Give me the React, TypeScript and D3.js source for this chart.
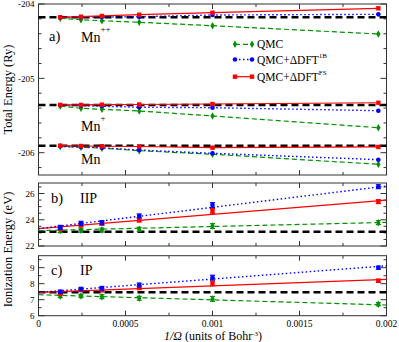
import React from "react";
import * as d3 from "d3";

// ---------- data ----------
const xs = [1 / 8000, 1 / 4096, 1 / 2744, 1 / 1728, 1 / 1000, 1 / 512];
const fitX = [0, 0.002];

// panel a: total energies (Ry)
const mn2Ref = -204.179;
const mn2Qmc = [-204.192, -204.211, -204.225, -204.246, -204.292, -204.403];
const mn2B1 = [-204.179, -204.178, -204.175, -204.171, -204.148, -204.139];
const mn2FS = [-204.179, -204.171, -204.161, -204.144, -204.117, -204.058];

const mn1Ref = -205.358;
const mn1Qmc = [-205.372, -205.403, -205.416, -205.439, -205.506, -205.664];
const mn1B1 = [-205.362, -205.367, -205.376, -205.389, -205.395, -205.435];
const mn1FS = [-205.358, -205.358, -205.354, -205.352, -205.345, -205.328];

const mn0Ref = -205.906;
const mn0Qmc = [-205.917, -205.927, -205.939, -205.973, -206.021, -206.156];
const mn0B1 = [-205.914, -205.923, -205.933, -205.964, -206.008, -206.094];
const mn0FS = [-205.906, -205.91, -205.913, -205.917, -205.933, -205.923];

// panel b: IIP (eV)
const iipRef = 23.09;
const iipQmc = [23.17, 23.2, 23.22, 23.27, 23.52, 23.78];
const iipB1 = [23.42, 23.73, 23.78, 24.29, 25.12, 26.52];
const iipFS = [23.35, 23.6, 23.73, 23.98, 24.67, 25.38];
const iipErr = [0.15, 0.15, 0.15, 0.15, 0.18, 0.15];
const iipFitQmc = [23.17, 23.8];
const iipFitB1 = [23.32, 26.57];
const iipFitFS = [23.32, 25.5];

// panel c: IP (eV)
const ipRef = 7.46;
const ipQmc = [7.23, 7.23, 7.19, 7.09, 7.05, 6.72];
const ipB1 = [7.5, 7.67, 7.71, 7.92, 8.38, 9.0];
const ipFS = [7.4, 7.61, 7.61, 7.75, 8.02, 8.18];
const ipErr = [0.1, 0.1, 0.12, 0.12, 0.15, 0.1];
const ipFitQmc = [7.31, 6.67];
const ipFitB1 = [7.46, 9.12];
const ipFitFS = [7.46, 8.27];

const xTickLabels = ["0", "0.0005", "0.001", "0.0015", "0.002"];
const aTicks = [-206, -205, -204];
const bTicks = [22, 24, 26];
const cTicks = [6, 7, 8, 9];

// ---------- styles ----------
const GREEN = "#009000";
const BLUE = "#0000ff";
const RED = "#ff0000";
const FONT = "'Liberation Serif', 'DejaVu Serif', serif";

const x = d3.scaleLinear().domain([0, 0.002]).range([38.5, 386.5]);
const yA = d3.scaleLinear().domain([-206.3, -204]).range([175, 4]);
const yB = d3.scaleLinear().domain([22, 26.8]).range([246, 183]);
const yC = d3.scaleLinear().domain([6, 9.75]).range([315.7, 255.7]);

type Scale = d3.ScaleLinear<number, number>;

const styles = {
  qmc: { color: GREEN, dash: "5,3", width: 1.2 },
  b1: { color: BLUE, dash: "1.5,2.5", width: 1.4 },
  fs: { color: RED, dash: undefined as string | undefined, width: 1.2 },
};

function Marker({ kind, cx, cy }: { kind: string; cx: number; cy: number }) {
  if (kind === "qmc") {
    const p = d3.symbol().type(d3.symbolDiamond).size(16)();
    return <path d={p || ""} transform={`translate(${cx},${cy})`} fill={GREEN} />;
  }
  if (kind === "b1") return <circle cx={cx} cy={cy} r={2.3} fill={BLUE} />;
  return <rect x={cx - 2.2} y={cy - 2.2} width={4.4} height={4.4} fill={RED} />;
}

function Frame({ y, yMajor, yMinor }: { y: Scale; yMajor: number[]; yMinor: number[] }) {
  const [y0, y1] = y.range();
  const top = Math.min(y0, y1);
  const bot = Math.max(y0, y1);
  const xt = d3.range(0, 0.002 + 1e-9, 0.00025);
  return (
    <g>
      <rect x={x(0)} y={top} width={x(0.002) - x(0)} height={bot - top} fill="none" stroke="#333" strokeWidth={1} />
      {xt.map((v, i) => {
        const major = Math.abs(v / 0.0005 - Math.round(v / 0.0005)) < 1e-6;
        const L = major ? 5 : 3;
        return (
          <g key={i}>
            <line x1={x(v)} x2={x(v)} y1={bot} y2={bot - L} stroke="#333" />
            <line x1={x(v)} x2={x(v)} y1={top} y2={top + L} stroke="#333" />
          </g>
        );
      })}
      {yMinor.map((v, i) => (
        <g key={"m" + i}>
          <line x1={x(0)} x2={x(0) + 3} y1={y(v)} y2={y(v)} stroke="#333" />
          <line x1={x(0.002)} x2={x(0.002) - 3} y1={y(v)} y2={y(v)} stroke="#333" />
        </g>
      ))}
      {yMajor.map((v, i) => (
        <g key={"M" + i}>
          <line x1={x(0)} x2={x(0) + 6} y1={y(v)} y2={y(v)} stroke="#333" />
          <line x1={x(0.002)} x2={x(0.002) - 6} y1={y(v)} y2={y(v)} stroke="#333" />
          <text x={x(0) - 4} y={y(v) + 3.2} textAnchor="end" fontSize={9} fontFamily={FONT}>
            {String(v)}
          </text>
        </g>
      ))}
    </g>
  );
}

function Series({ kind, vals, y }: { kind: "qmc" | "b1" | "fs"; vals: number[]; y: Scale }) {
  const st = styles[kind];
  const line = d3.line<number>().x((_, i) => x(xs[i])).y((v) => y(v));
  return (
    <g>
      <path d={line(vals) || ""} fill="none" stroke={st.color} strokeWidth={st.width} strokeDasharray={st.dash} />
      {vals.map((v, i) => (
        <Marker key={i} kind={kind} cx={x(xs[i])} cy={y(v)} />
      ))}
    </g>
  );
}

function FitSeries({ kind, vals, fit, y, err }: { kind: "qmc" | "b1" | "fs"; vals: number[]; fit: number[]; y: Scale; err: number[] }) {
  const st = styles[kind];
  const line = d3.line<number>().x((_, i) => x(fitX[i])).y((v) => y(v));
  return (
    <g>
      <path d={line(fit) || ""} fill="none" stroke={st.color} strokeWidth={st.width} strokeDasharray={st.dash} />
      {vals.map((v, i) => {
        const cx = x(xs[i]);
        const a = y(v - err[i]);
        const b = y(v + err[i]);
        return (
          <g key={i}>
            <line x1={cx} x2={cx} y1={a} y2={b} stroke={st.color} strokeWidth={1.2} />
            <line x1={cx - 2.5} x2={cx + 2.5} y1={a} y2={a} stroke={st.color} strokeWidth={1.2} />
            <line x1={cx - 2.5} x2={cx + 2.5} y1={b} y2={b} stroke={st.color} strokeWidth={1.2} />
            <Marker kind={kind} cx={cx} cy={y(v)} />
          </g>
        );
      })}
    </g>
  );
}

function RefLine({ v, y }: { v: number; y: Scale }) {
  return <line x1={x(0)} x2={x(0.002)} y1={y(v)} y2={y(v)} stroke="#000" strokeWidth={2.5} strokeDasharray="7,4" />;
}

function LegendRow({ kind, yPos, label, sup }: { kind: "qmc" | "b1" | "fs"; yPos: number; label: string; sup?: string }) {
  const st = styles[kind];
  return (
    <g>
      <line x1={235} x2={252} y1={yPos} y2={yPos} stroke={st.color} strokeWidth={st.width} strokeDasharray={st.dash} />
      <Marker kind={kind} cx={235} cy={yPos} />
      <Marker kind={kind} cx={252} cy={yPos} />
      <text x={257} y={yPos + 4} fontSize={11.5} fontFamily={FONT}>
        {label}
        {sup && (
          <tspan fontSize={7} dy={-6}>
            {sup}
          </tspan>
        )}
      </text>
    </g>
  );
}

export default function App() {
  const range = (a: number, b: number, s: number) => d3.range(a, b + 1e-9, s).map((v) => +v.toFixed(4));
  const notIn = (arr: number[]) => (v: number) => !arr.some((t) => Math.abs(t - v) < 1e-6);
  return (
    <svg width={399} height={342} style={{ position: "absolute", left: 0, top: 0, background: "#fff" }}>
      {/* Panel a */}
      <Frame y={yA} yMajor={aTicks} yMinor={range(-206.2, -204, 0.2).filter(notIn(aTicks))} />
      <RefLine v={mn2Ref} y={yA} />
      <RefLine v={mn1Ref} y={yA} />
      <RefLine v={mn0Ref} y={yA} />
      <Series kind="qmc" vals={mn2Qmc} y={yA} />
      <Series kind="b1" vals={mn2B1} y={yA} />
      <Series kind="fs" vals={mn2FS} y={yA} />
      <Series kind="qmc" vals={mn1Qmc} y={yA} />
      <Series kind="b1" vals={mn1B1} y={yA} />
      <Series kind="fs" vals={mn1FS} y={yA} />
      <Series kind="qmc" vals={mn0Qmc} y={yA} />
      <Series kind="b1" vals={mn0B1} y={yA} />
      <Series kind="fs" vals={mn0FS} y={yA} />
      <text x={49} y={41} fontSize={14.5} fontFamily={FONT}>a)</text>
      <text x={81} y={42} fontSize={14} fontFamily={FONT}>
        Mn<tspan fontSize={9} dy={-10}>++</tspan>
      </text>
      <text x={81} y={131} fontSize={14} fontFamily={FONT}>
        Mn<tspan fontSize={9} dy={-10}>+</tspan>
      </text>
      <text x={81} y={164} fontSize={14} fontFamily={FONT}>Mn</text>
      <LegendRow kind="qmc" yPos={44.3} label="QMC" />
      <LegendRow kind="b1" yPos={59.5} label="QMC+ΔDFT" sup="1B" />
      <LegendRow kind="fs" yPos={76.7} label="QMC+ΔDFT" sup="FS" />

      {/* Panel b */}
      <Frame y={yB} yMajor={bTicks} yMinor={range(22.5, 26.5, 0.5).filter(notIn(bTicks))} />
      <RefLine v={iipRef} y={yB} />
      <FitSeries kind="qmc" vals={iipQmc} fit={iipFitQmc} y={yB} err={iipErr} />
      <FitSeries kind="fs" vals={iipFS} fit={iipFitFS} y={yB} err={iipErr} />
      <FitSeries kind="b1" vals={iipB1} fit={iipFitB1} y={yB} err={iipErr} />
      <text x={51} y={203} fontSize={14.5} fontFamily={FONT}>b)</text>
      <text x={80} y={203} fontSize={14} fontFamily={FONT}>IIP</text>

      {/* Panel c */}
      <Frame y={yC} yMajor={cTicks} yMinor={range(6.5, 9.5, 0.5).filter(notIn(cTicks))} />
      <RefLine v={ipRef} y={yC} />
      <FitSeries kind="qmc" vals={ipQmc} fit={ipFitQmc} y={yC} err={ipErr} />
      <FitSeries kind="fs" vals={ipFS} fit={ipFitFS} y={yC} err={ipErr} />
      <FitSeries kind="b1" vals={ipB1} fit={ipFitB1} y={yC} err={ipErr} />
      <text x={51} y={275} fontSize={14.5} fontFamily={FONT}>c)</text>
      <text x={80} y={275} fontSize={14} fontFamily={FONT}>IP</text>

      {/* x tick labels */}
      {xTickLabels.map((t, i) => (
        <text key={i} x={x(i * 0.0005)} y={326.5} textAnchor="middle" fontSize={9.5} fontFamily={FONT}>
          {t}
        </text>
      ))}
      <text x={213} y={340} textAnchor="middle" fontSize={12} fontFamily={FONT}>
        <tspan fontStyle="italic">1/Ω</tspan> (units of Bohr<tspan fontSize={7} dy={-4}>-3</tspan>
        <tspan dy={4}>)</tspan>
      </text>

      {/* y axis titles */}
      <text transform={`translate(12,${(4 + 175) / 2}) rotate(-90)`} textAnchor="middle" fontSize={12.5} fontFamily={FONT}>
        Total Energy (Ry)
      </text>
      <text transform={`translate(12,${(183 + 316) / 2}) rotate(-90)`} textAnchor="middle" fontSize={12.5} fontFamily={FONT}>
        Ionization Energy (eV)
      </text>
    </svg>
  );
}
